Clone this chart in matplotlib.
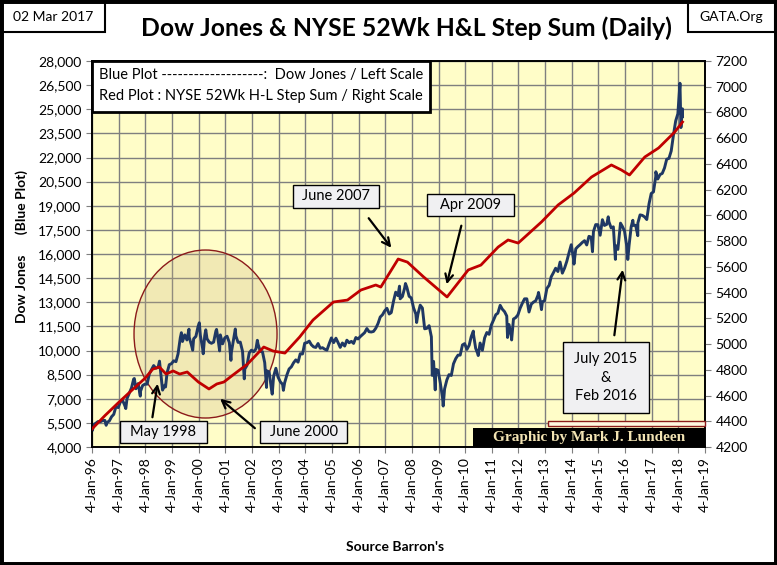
import matplotlib
matplotlib.use("Agg")
import matplotlib.pyplot as plt
from matplotlib.patches import Rectangle, Ellipse
from matplotlib.ticker import FuncFormatter
import pandas as pd

plt.rcParams['font.family'] = ['Lato', 'DejaVu Sans']

# Dow Jones month-end closes, Jan 1996 .. Feb 2018
dow_monthly = [
    5395, 5485, 5587, 5569, 5643, 5655, 5529, 5616, 5882, 6029, 6522, 6448,
    6813, 6878, 6583, 7009, 7331, 7673, 8223, 7622, 7945, 7442, 7823, 7908,
    7907, 8546, 8800, 9063, 8900, 8952, 8883, 7539, 7843, 8592, 9117, 9181,
    9359, 9307, 9786, 10789, 10560, 10971, 10655, 10829, 10337, 10729, 10878, 11497,
    10941, 10128, 10922, 10734, 10522, 10448, 10522, 11215, 10651, 10971, 10415, 10787,
    10887, 10495, 9879, 10735, 10912, 10502, 10523, 9950, 8848, 9075, 9852, 10022,
    9920, 10106, 10404, 9946, 9925, 9243, 8737, 8664, 7592, 8397, 8896, 8342,
    8054, 7891, 7992, 8480, 8850, 8985, 9234, 9416, 9275, 9801, 9782, 10454,
    10488, 10584, 10358, 10226, 10188, 10435, 10140, 10174, 10080, 10027, 10428, 10783,
    10490, 10766, 10504, 10193, 10467, 10275, 10641, 10482, 10569, 10440, 10806, 10718,
    10865, 10993, 11109, 11367, 11168, 11150, 11186, 11381, 11679, 12081, 12222, 12463,
    12622, 12269, 12354, 13063, 13628, 13409, 13212, 13358, 13896, 13930, 13372, 13265,
    12650, 12266, 12263, 12820, 12638, 11350, 11378, 11544, 10851, 9325, 8829, 8776,
    8001, 7063, 7609, 8168, 8500, 8447, 9172, 9496, 9712, 9713, 10345, 10428,
    10067, 10325, 10857, 11009, 10137, 9774, 10466, 10015, 10788, 11118, 11006, 11578,
    11892, 12226, 12320, 12811, 12570, 12414, 12143, 11614, 10913, 11955, 12046, 12218,
    12633, 12952, 13212, 13214, 12393, 12880, 13009, 13091, 13437, 13096, 13026, 13104,
    13861, 14054, 14579, 14840, 15116, 14910, 15500, 14810, 15130, 15546, 16086, 16577,
    15699, 16322, 16458, 16581, 16717, 16827, 16563, 17098, 17043, 17391, 17828, 17823,
    17165, 18133, 17776, 17841, 18011, 17620, 17690, 16528, 16285, 17664, 17720, 17425,
    16466, 16517, 17685, 17774, 17787, 17930, 18432, 18401, 18308, 18142, 19124, 19763,
    19864, 20812, 20663, 20941, 21009, 21350, 21891, 21948, 22405, 23377, 24272, 24719,
    26149, 25029,
]

# intra-month highs and lows
dow_extreme_dates = [
    '1996-01-04', '1996-01-10', '1996-07-16', '1997-04-11', '1997-08-06', '1997-10-27',
    '1998-07-17', '1998-10-08', '1999-05-13', '1999-08-25', '1999-10-15',
    '2000-01-14', '2000-03-07', '2000-04-11', '2000-09-06', '2000-10-18',
    '2001-03-22', '2001-05-21', '2001-09-21', '2002-03-19', '2002-07-23', '2002-10-09',
    '2003-03-11', '2007-07-19', '2007-10-09', '2008-03-10', '2008-10-10', '2008-11-20',
    '2009-03-09', '2010-04-26', '2010-07-02', '2011-04-29', '2011-08-08', '2011-10-03',
    '2012-10-05', '2012-11-15', '2014-02-03', '2014-10-15', '2015-05-19', '2015-08-25',
    '2015-11-03', '2016-02-11', '2016-04-20', '2016-06-27', '2017-03-01',
    '2018-01-26', '2018-02-08', '2018-03-02',
]
dow_extreme_values = [
    5194, 5032, 5350, 6391, 8259, 7161,
    9338, 7731, 11107, 11326, 10019,
    11723, 9796, 11287, 11310, 9975,
    9389, 11337, 8236, 10635, 7702, 7286,
    7524, 14000, 14165, 11740, 8451, 7552,
    6547, 11205, 9686, 12811, 10810, 10655,
    13610, 12542, 15372, 16141, 18312, 15666,
    17918, 15660, 18096, 17140, 21115,
    26617, 23860, 24538,
]

# NYSE 52Wk H-L step sum (right scale)
red_dates = [
    '1996-01-04', '1996-07-01', '1997-01-01', '1997-07-01', '1998-01-01', '1998-04-15',
    '1998-07-15', '1998-10-15', '1999-01-20', '1999-04-20', '1999-08-01', '2000-01-01',
    '2000-05-25', '2000-09-10', '2000-12-15', '2001-04-20', '2001-11-05', '2002-06-15',
    '2002-10-20', '2003-04-01', '2003-10-20', '2004-04-20', '2005-01-25', '2005-08-05',
    '2006-02-05', '2006-08-28', '2006-11-05', '2007-07-01', '2007-11-05', '2008-06-15',
    '2009-05-01', '2010-02-15', '2010-08-08', '2011-04-01', '2011-08-15', '2012-01-01',
    '2012-11-15', '2013-07-01', '2014-02-05', '2014-10-01', '2015-07-01', '2015-11-15',
    '2016-03-05', '2016-10-01', '2017-04-08', '2017-11-15', '2018-03-02',
]
red_values = [
    4340, 4445, 4545, 4640, 4735, 4805,
    4822, 4767, 4791, 4767, 4783, 4705,
    4651, 4690, 4705, 4760, 4845, 4977,
    4946, 4930, 5055, 5187, 5327, 5342,
    5420, 5459, 5443, 5661, 5637, 5521,
    5366, 5576, 5614, 5754, 5809, 5785,
    5949, 6081, 6174, 6298, 6392, 6353,
    6314, 6454, 6524, 6648, 6726,
]

left_ticks = list(range(4000, 28001, 1500))
right_ticks = list(range(4200, 7201, 200))
year_ticks = list(range(1996, 2020))

monthly_dates = [pd.Timestamp(1996 + i // 12, i % 12 + 1, 28) for i in range(len(dow_monthly))]
dow = pd.concat([
    pd.Series(dow_monthly, index=monthly_dates),
    pd.Series(dow_extreme_values, index=pd.to_datetime(dow_extreme_dates)),
]).sort_index()
red = pd.Series(red_values, index=pd.to_datetime(red_dates))

W, H = 777, 565
fig = plt.figure(figsize=(W / 100, H / 100), dpi=100)


def fp(x, y):
    # pixel position (from top-left) -> figure fraction
    return x / W, 1 - y / H


ax = fig.add_axes([92 / W, 1 - 447 / H, 613 / W, 386 / H])
ax.set_facecolor('#FFFDC8')
ax.plot(dow.index, dow.values, color='#1F3864', lw=2.1, zorder=3)
ax.set_ylim(4000, 28000)
ax.set_yticks(left_ticks)
ax.yaxis.set_major_formatter(FuncFormatter(lambda v, p: f"{int(v):,}"))
ax.set_xlim(pd.Timestamp('1996-01-04'), pd.Timestamp('2019-01-04'))
ax.set_xticks([pd.Timestamp(y, 1, 4) for y in year_ticks])
ax.set_xticklabels([f"4-Jan-{str(y)[2:]}" for y in year_ticks], rotation=90)
ax.grid(True, color='#7F7F7F', lw=1)
ax.set_axisbelow(True)
ax.tick_params(labelsize=10, length=4, color='#7F7F7F')
for s in ax.spines.values():
    s.set_color('black')
    s.set_linewidth(1.2)

ell = Ellipse((0.1852, 0.2927), 0.2333, 0.4352, transform=ax.transAxes,
              facecolor='#C9B07A', alpha=0.25, edgecolor='none', zorder=2)
ax.add_patch(ell)
ell_edge = Ellipse((0.1852, 0.2927), 0.2333, 0.4352, transform=ax.transAxes,
                   facecolor='none', edgecolor='#8B1A1A', lw=1, zorder=2)
ax.add_patch(ell_edge)

ax2 = ax.twinx()
ax2.plot(red.index, red.values, color='#C00000', lw=2.0, zorder=4)
ax2.set_ylim(4200, 7200)
ax2.set_yticks(right_ticks)
ax2.tick_params(labelsize=10, length=4, color='#7F7F7F')
for s in ax2.spines.values():
    s.set_color('black')
    s.set_linewidth(1.2)

fig.text(*fp(22, 247), "Dow Jones      (Blue Plot)", rotation=90, ha='center',
         va='center', fontsize=10, fontweight='bold')
fig.text(*fp(395, 547), "Source Barron's", ha='center', va='center',
         fontsize=10, fontweight='bold')

fig.text(*fp(406, 28), "Dow Jones & NYSE 52Wk H&L Step Sum (Daily)", ha='center',
         va='center', fontsize=17.8, fontweight='bold')


def box(x0, y0, x1, y1, fc='white', lw=1.2, ec='black'):
    fig.patches.append(Rectangle(fp(x0, y1), (x1 - x0) / W, (y1 - y0) / H,
                                 transform=fig.transFigure, facecolor=fc,
                                 edgecolor=ec, lw=lw, zorder=5))


# date and site boxes
box(2, 2, 105, 32, lw=1.5)
fig.text(*fp(53, 17), "02 Mar 2017", ha='center', va='center', fontsize=10, zorder=6)
box(688, 2, 775, 32, lw=1.5)
fig.text(*fp(731, 17), "GATA.Org", ha='center', va='center', fontsize=10, zorder=6)

# legend box
box(92, 61, 430, 112, lw=2)
fig.text(*fp(261, 75), "Blue Plot -------------------:  Dow Jones / Left Scale",
         ha='center', va='center', fontsize=10.5, zorder=6)
fig.text(*fp(261, 96), "Red Plot : NYSE 52Wk H-L Step Sum / Right Scale",
         ha='center', va='center', fontsize=10.5, zorder=6)

# credit
box(548, 421, 705, 426, fc='#FFF8E0', ec='#8B1A1A', lw=1)
box(473, 428, 705, 447, fc='black', lw=0)
fig.text(*fp(589, 437.5), "Graphic by Mark J. Lundeen", ha='center', va='center',
         fontsize=11, fontweight='bold', family='Liberation Serif', color='#F2E3B3', zorder=6)

# annotation boxes and arrows
notes = [
    ((120, 421, 207, 443), "May 1998", (152, 420), (158, 381)),
    ((260, 421, 347, 443), "June 2000", (257, 430), (218, 397)),
    ((293, 185, 379, 208), "June 2007", (367, 216), (393, 250)),
    ((427, 194, 514, 216), "Apr 2009", (462, 223), (446, 287)),
    ((563, 342, 649, 413), "July 2015\n&\nFeb 2016", (614, 338), (623, 267)),
]
for (x0, y0, x1, y1), label, start, tip in notes:
    box(x0, y0, x1, y1, fc='#F0F0F2', lw=1)
    fig.text(*fp((x0 + x1) / 2, (y0 + y1) / 2), label, ha='center', va='center',
             fontsize=10.5, linespacing=1.45, zorder=6)
    ax.annotate('', xy=fp(*tip), xycoords='figure fraction',
                xytext=fp(*start), textcoords='figure fraction',
                arrowprops=dict(arrowstyle='->', color='black', lw=1.6,
                                mutation_scale=14), zorder=7)

# outer frame
fig.patches.append(Rectangle((0, 0), 1, 1, transform=fig.transFigure,
                             facecolor='none', edgecolor='black', lw=5, zorder=10))

fig.savefig("out.png", dpi=100)
